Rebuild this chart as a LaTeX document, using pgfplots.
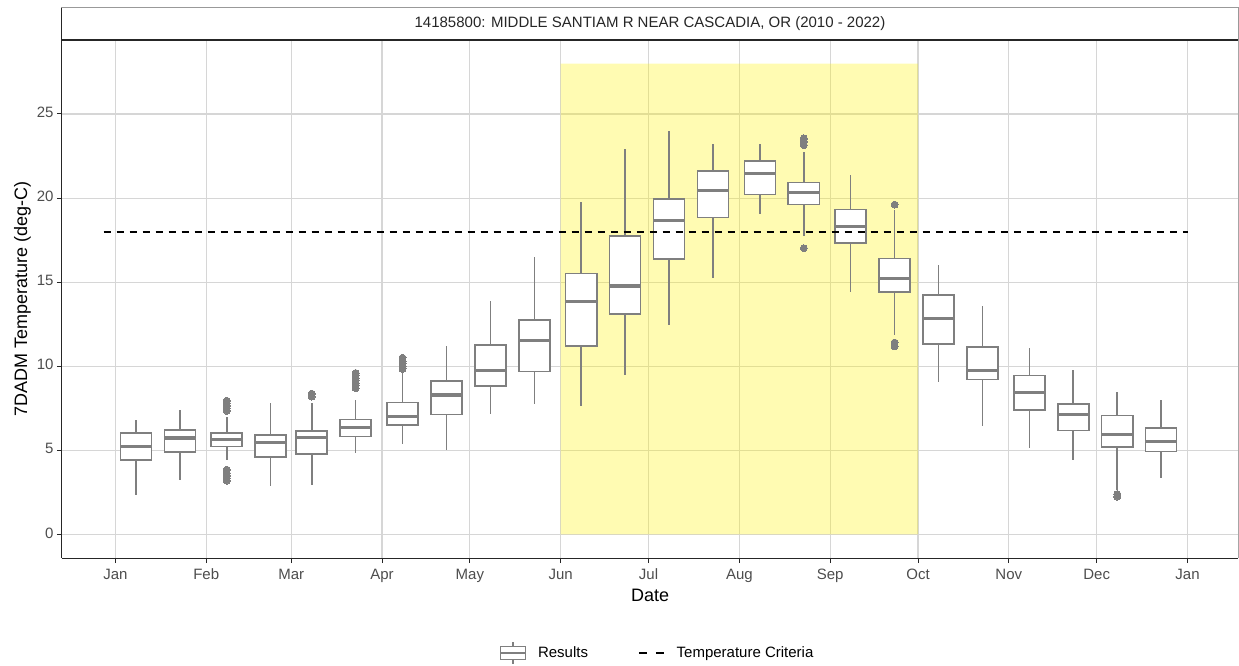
\documentclass[border=0pt]{standalone}
\usepackage{pgfplots}
\pgfplotsset{compat=1.18}
\usepgfplotslibrary{statistics}
\usepackage{fontspec}
\setmainfont{Liberation Sans}
\definecolor{boxgrey}{HTML}{7F7F7F}
\definecolor{gridgrey}{HTML}{D6D6D6}
\definecolor{ticktext}{HTML}{4D4D4D}
\definecolor{axisdark}{HTML}{262626}
\pgfplotsset{
  mybox/.style={forget plot, solid, draw=boxgrey, fill=white, line width=1.6pt,
    mark=*, mark size=3.5pt, mark options={draw=boxgrey, fill=boxgrey, line width=0pt},
    boxplot/draw direction=y,
    boxplot/box extend=10.6, boxplot/whisker extend=0,
    boxplot/every median/.style={line width=3.2pt}},
}
\newcommand{\bx}[7]{\addplot[mybox, boxplot prepared={draw position=#1, lower whisker=#2, lower quartile=#3, median=#4, upper quartile=#5, upper whisker=#6}] coordinates {#7};}
\begin{document}
\begin{tikzpicture}
\path[use as bounding box] (-62pt,-107pt) rectangle (1177pt,558pt);
\begin{axis}[
  at={(0pt,0pt)}, anchor=south west,
  scale only axis, width=1176pt, height=518pt,
  xmin=-18.25, xmax=383.25, ymin=-1.4, ymax=29.4,
  xtick={0,31,60,91,121,152,182,213,244,274,305,335,366},
  xticklabels={Jan,Feb,Mar,Apr,May,Jun,Jul,Aug,Sep,Oct,Nov,Dec,Jan},
  ytick={0,5,10,15,20,25},
  grid=major, major grid style={gridgrey, line width=1.1pt},
  axis x line*=bottom, axis y line*=left,
  axis line style={axisdark, line width=1pt},
  tick align=outside, major tick length=5pt,
  tick style={axisdark, line width=1pt},
  tick label style={font=\fontsize{15}{18}\selectfont, text=ticktext},
  typeset ticklabels with strut,
  /pgf/number format/assume math mode=true,
  xlabel={Date}, ylabel={7DADM Temperature (deg-C)},
  label style={font=\fontsize{18}{21}\selectfont, text=black},
  xlabel style={at={(axis description cs:0.5,-0.0714)}, anchor=center},
  ylabel style={at={(axis description cs:-0.0336,0.5)}, anchor=center},
  legend style={at={(axis description cs:0.5064,-0.183)}, anchor=center, draw=none, fill=none,
    legend columns=2, font=\fontsize{15}{18}\selectfont,
    /tikz/every odd column/.append style={column sep=10pt},
    /tikz/every even column/.append style={column sep=48pt}},
  legend cell align=left,
]
% shaded season
\addplot[fill=yellow, fill opacity=0.3, draw=none, forget plot] coordinates {(152,0) (152,28) (274,28) (274,0) (152,0)};
% boxplots: pos, lower whisker, lower quartile, median, upper quartile, upper whisker, outliers
\bx{7}{2.37}{4.42}{5.25}{6.04}{6.81}{}
\bx{22}{3.26}{4.92}{5.73}{6.22}{7.40}{}
\bx{38}{4.40}{5.23}{5.63}{6.04}{6.97}{(0,7.35) (0,7.5) (0,7.65) (0,7.8) (0,7.95) (0,3.2) (0,3.35) (0,3.5) (0,3.65) (0,3.85)}
\bx{53}{2.86}{4.62}{5.45}{5.92}{7.80}{}
\bx{67}{2.96}{4.80}{5.77}{6.14}{7.80}{(0,8.2) (0,8.37)}
\bx{82}{4.86}{5.82}{6.34}{6.83}{8.00}{(0,8.7) (0,8.85) (0,9.0) (0,9.15) (0,9.3) (0,9.45) (0,9.6)}
\bx{98}{5.35}{6.52}{7.03}{7.84}{9.64}{(0,9.85) (0,10.0) (0,10.15) (0,10.3) (0,10.5)}
\bx{113}{5.05}{7.13}{8.29}{9.12}{11.2}{}
\bx{128}{7.17}{8.82}{9.73}{11.25}{13.9}{}
\bx{143}{7.76}{9.70}{11.51}{12.74}{16.5}{}
\bx{159}{7.64}{11.22}{13.84}{15.52}{19.79}{}
\bx{174}{9.46}{13.11}{14.77}{17.73}{22.89}{}
\bx{189}{12.46}{16.37}{18.66}{19.93}{23.97}{}
\bx{204}{15.26}{18.84}{20.44}{21.60}{23.19}{}
\bx{220}{19.06}{20.22}{21.45}{22.22}{23.19}{}
\bx{235}{17.77}{19.61}{20.32}{20.93}{22.77}{(0,23.15) (0,23.35) (0,23.55) (0,17.02)}
\bx{251}{14.44}{17.34}{18.33}{19.33}{21.37}{}
\bx{266}{11.85}{14.42}{15.21}{16.41}{19.31}{(0,19.61) (0,11.41) (0,11.18)}
\bx{281}{9.04}{11.32}{12.84}{14.24}{16.01}{}
\bx{296}{6.44}{9.22}{9.76}{11.14}{13.59}{}
\bx{312}{5.13}{7.41}{8.43}{9.44}{11.10}{}
\bx{327}{4.44}{6.18}{7.13}{7.76}{9.79}{}
\bx{342}{2.62}{5.19}{5.92}{7.07}{8.49}{(0,2.25) (0,2.4)}
\bx{357}{3.36}{4.94}{5.53}{6.32}{8.00}{}
% criteria
\addplot[black, line width=1.6pt, dash pattern=on 7pt off 6pt, forget plot] coordinates {(-4,18) (366,18)};
% legend
\addlegendimage{legend image code/.code={
  \draw[boxgrey, line width=1.4pt, fill=white] (0pt,-6.5pt) rectangle (25pt,6.5pt);
  \draw[boxgrey, line width=1.4pt] (0pt,0pt) -- (25pt,0pt);
  \draw[boxgrey, line width=1.4pt] (12.5pt,6.5pt) -- (12.5pt,11pt) (12.5pt,-6.5pt) -- (12.5pt,-11pt);
}}
\addlegendentry{Results}
\addlegendimage{legend image code/.code={
  \draw[black, line width=1.6pt, dash pattern=on 8pt off 9pt] (0pt,0pt) -- (25pt,0pt);
}}
\addlegendentry{Temperature Criteria}
\end{axis}
\draw[gray!70, line width=0.8pt] (1176pt,0pt) -- (1176pt,518pt);
\draw[gray!80, line width=1pt, fill=white] (0pt,518pt) rectangle (1176pt,550pt);
\draw[axisdark, line width=1.8pt] (0pt,518pt) -- (1176pt,518pt);
\draw[axisdark, line width=1pt] (0pt,0pt) -- (0pt,550pt);
\node[font=\fontsize{15}{18}\selectfont, text=axisdark] at (588pt,534pt) {14185800: MIDDLE SANTIAM R NEAR CASCADIA, OR (2010 - 2022)};
\end{tikzpicture}
\end{document}
